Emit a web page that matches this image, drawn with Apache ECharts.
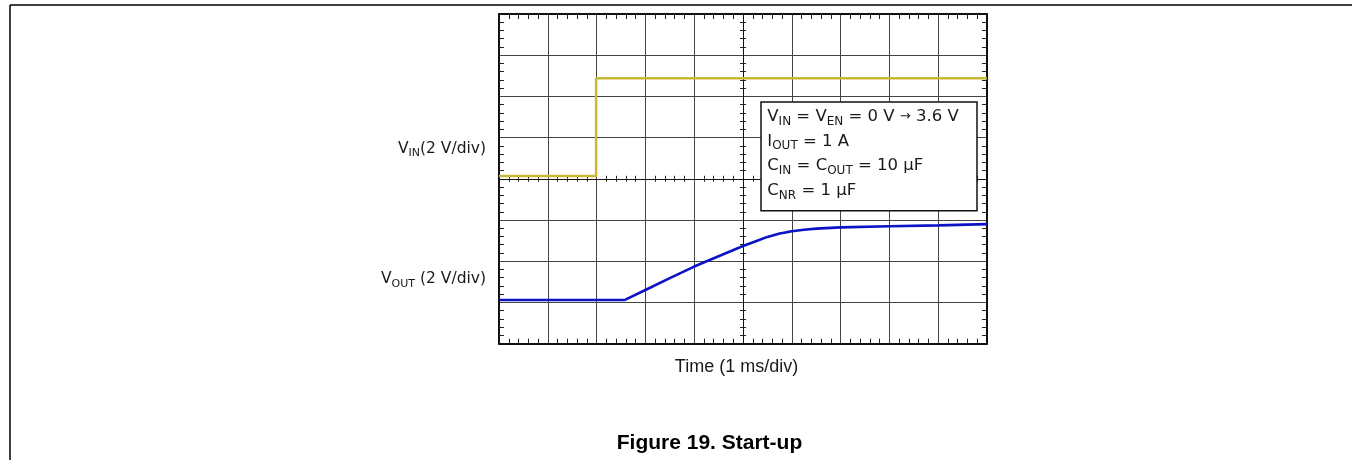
<!DOCTYPE html>
<html><head><meta charset="utf-8">
<script src="https://cdn.jsdelivr.net/npm/echarts@6/dist/echarts.min.js"></script>
<style>html,body{margin:0;padding:0;background:#fff;overflow:hidden}#c{width:1353px;height:460px}</style>
</head><body><div id="c"></div>
<script>
// time in divisions (1 ms/div), levels in vertical divisions from the bottom of the screen
const vinTime  = [0, 1.99, 1.99, 10];
const vinLevel = [4.07, 4.07, 6.44, 6.44];
const voutTime  = [0, 2.58, 3.0, 3.5, 4.0, 4.5, 5.0, 5.25, 5.5, 5.75, 5.9, 6.0, 6.25, 6.5, 7.0, 8.0, 9.0, 10.0];
const voutLevel = [1.06, 1.06, 1.30, 1.59, 1.87, 2.12, 2.37, 2.48, 2.59, 2.67, 2.705, 2.725, 2.765, 2.79, 2.82, 2.85, 2.87, 2.90];
const xDivs = 10, yDivs = 8, minorPerDiv = 5;
const vinLabel  = '{m|V}{s|IN}{m|(2 V/div)}';
const voutLabel = '{m|V}{s|OUT}{m| (2 V/div)}';
const xTitle = 'Time (1 ms/div)';
const caption = 'Figure 19. Start-up';
const noteText = '{m|V}{s|IN}{m| = V}{s|EN}{m| = 0 V }{a|\u2192}{m| 3.6 V}\n{m|I}{s|OUT}{m| = 1 A}\n{m|C}{s|IN}{m| = C}{s|OUT}{m| = 10 \u03bcF}\n{m|C}{s|NR}{m| = 1 \u03bcF}';

const G = {left: 499, top: 14, width: 488, height: 329.6};
const FAM = '"DejaVu Sans", sans-serif';
const SANS = '"Liberation Sans", Arial, sans-serif';

function xAx(gi, pos, offset, border) {
  return {
    type: 'value', gridIndex: gi, position: pos, offset: offset, min: 0, max: xDivs, interval: 1,
    axisLine: {show: true, onZero: false, lineStyle: {color: '#111', width: border ? 2 : 1}},
    axisTick: {show: false, inside: border},
    minorTick: {show: true, splitNumber: minorPerDiv, length: border ? 5 : 3, lineStyle: {color: '#222', width: 1}},
    axisLabel: {show: false},
    splitLine: {show: gi === 0 && pos === 'bottom', lineStyle: {color: '#444', width: 1}}
  };
}
function yAx(gi, pos, offset, border) {
  return {
    type: 'value', gridIndex: gi, position: pos, offset: offset, min: 0, max: yDivs, interval: 1,
    axisLine: {show: true, onZero: false, lineStyle: {color: '#111', width: border ? 2 : 1}},
    axisTick: {show: false, inside: border},
    minorTick: {show: true, splitNumber: minorPerDiv, length: border ? 5 : 3, lineStyle: {color: '#222', width: 1}},
    axisLabel: {show: false},
    splitLine: {show: gi === 0 && pos === 'left', lineStyle: {color: '#444', width: 1}}
  };
}

const chart = echarts.init(document.getElementById('c'));
const labelRich = {
  m: {fontFamily: FAM, fontSize: 15.5, lineHeight: 20, color: '#1a1a1a'},
  s: {fontFamily: FAM, fontSize: 11, lineHeight: 20, color: '#1a1a1a', padding: [9, 0, 0, 0]}
};
chart.setOption({
  animation: false,
  backgroundColor: '#fff',
  grid: [
    Object.assign({outerBoundsMode: 'none', containLabel: false}, G),
    Object.assign({outerBoundsMode: 'none', containLabel: false}, G)
  ],
  xAxis: [
    xAx(0, 'bottom', 0, true),
    xAx(0, 'top', 0, true),
    xAx(1, 'bottom', -G.height / 2, false),
    xAx(1, 'top', -G.height / 2, false)
  ],
  yAxis: [
    yAx(0, 'left', 0, true),
    yAx(0, 'right', 0, true),
    yAx(1, 'left', -G.width / 2, false),
    yAx(1, 'right', -G.width / 2, false)
  ],
  series: [
    {type: 'line', xAxisIndex: 0, yAxisIndex: 0, symbol: 'none', silent: true, z: 5,
     data: vinTime.map((t, i) => [t, vinLevel[i]]),
     lineStyle: {color: '#c9b936', width: 2.5}},
    {type: 'line', xAxisIndex: 0, yAxisIndex: 0, symbol: 'none', silent: true, z: 5,
     data: voutTime.map((t, i) => [t, voutLevel[i]]),
     lineStyle: {color: '#0a14c4', width: 2.6}}
  ],
  graphic: [
    {type: 'line', silent: true, shape: {x1: 10, y1: 5, x2: 1352, y2: 5}, style: {stroke: '#000', lineWidth: 1.5}},
    {type: 'line', silent: true, shape: {x1: 10, y1: 5, x2: 10, y2: 460}, style: {stroke: '#000', lineWidth: 1.5}},
    {type: 'rect', silent: true, z: 100, shape: {x: 761, y: 102, width: 216, height: 108.7},
     style: {fill: '#fff', stroke: '#111', lineWidth: 1.5}},
    {type: 'text', silent: true, z: 101, x: 767.3, y: 104.4,
     style: {text: noteText, align: 'left', verticalAlign: 'top', textAlign: 'left', textVerticalAlign: 'top',
       font: '16.5px ' + FAM, fill: '#1a1a1a',
       rich: {
         m: {fontFamily: FAM, fontSize: 16.5, lineHeight: 24.6, color: '#1a1a1a'},
         s: {fontFamily: FAM, fontSize: 12, lineHeight: 24.6, color: '#1a1a1a', padding: [10, 0, 0, 0]},
         a: {fontFamily: FAM, fontSize: 13, lineHeight: 24.6, color: '#555'}
       }}},
    {type: 'text', silent: true, x: 486, y: 148.6,
     style: {text: vinLabel, align: 'right', verticalAlign: 'middle', textAlign: 'right', textVerticalAlign: 'middle',
       font: '15.5px ' + FAM, fill: '#1a1a1a', rich: labelRich}},
    {type: 'text', silent: true, x: 486, y: 279.3,
     style: {text: voutLabel, align: 'right', verticalAlign: 'middle', textAlign: 'right', textVerticalAlign: 'middle',
       font: '15.5px ' + FAM, fill: '#1a1a1a', rich: labelRich}},
    {type: 'text', silent: true, x: 736.5, y: 367.4,
     style: {text: xTitle, align: 'center', verticalAlign: 'middle', textAlign: 'center', textVerticalAlign: 'middle',
       font: '18px ' + SANS, fill: '#1a1a1a'}},
    {type: 'text', silent: true, x: 709.5, y: 443.5,
     style: {text: caption, align: 'center', verticalAlign: 'middle', textAlign: 'center', textVerticalAlign: 'middle',
       font: 'bold 21px ' + SANS, fill: '#000'}}
  ]
});
</script></body></html>
